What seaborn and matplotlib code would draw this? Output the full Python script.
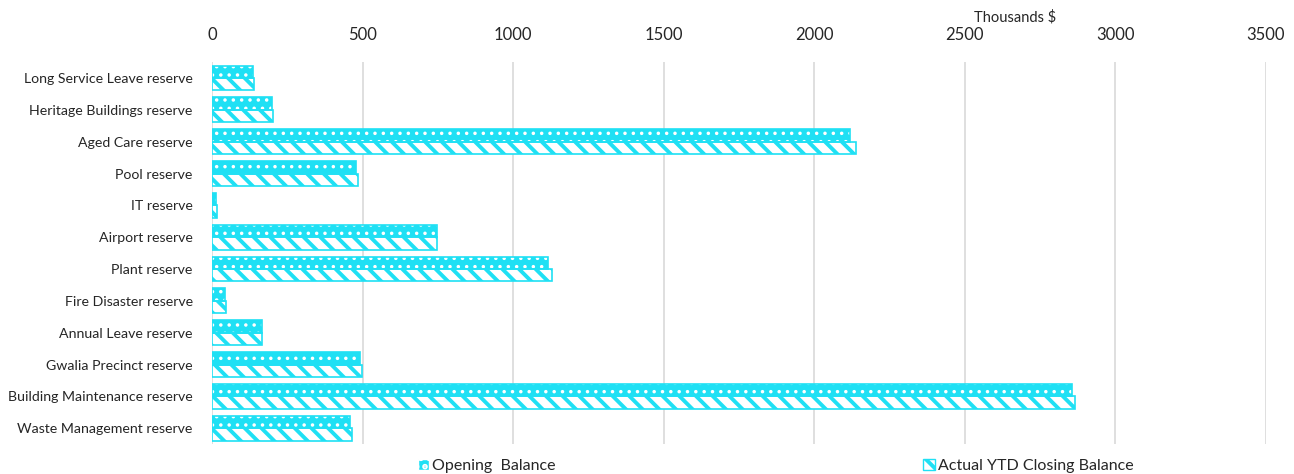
import seaborn as sns
from matplotlib import pyplot as plt
from matplotlib.patches import Rectangle, Patch
import pandas as pd

# reserves, thousands $
reserves = ["Long Service Leave reserve", "Heritage Buildings reserve", "Aged Care reserve",
            "Pool reserve", "IT reserve", "Airport reserve", "Plant reserve",
            "Fire Disaster reserve", "Annual Leave reserve", "Gwalia Precinct reserve",
            "Building Maintenance reserve", "Waste Management reserve"]
opening = [136, 200, 2120, 478, 13, 748, 1116, 43, 166, 491, 2856, 458]
closing = [140, 203, 2139, 483, 16, 748, 1129, 46, 166, 498, 2867, 465]
series = ["Opening  Balance", "Actual YTD Closing Balance"]

cyan = "#1fe0f4"

df = pd.DataFrame({
    "reserve": reserves * 2,
    "value": opening + closing,
    "series": [series[0]] * len(reserves) + [series[1]] * len(reserves),
})

sns.set_style("white")
plt.rcParams["font.family"] = ["Lato", "DejaVu Sans"]
plt.rcParams["hatch.linewidth"] = 2.8

fig = plt.figure(figsize=(12.94, 4.74), dpi=100)
ax = fig.add_axes([0.164, 0.063, 0.814, 0.806])

sns.barplot(data=df, x="value", y="reserve", hue="series", orient="h",
            palette=[cyan, cyan], width=0.78, ax=ax, legend=False, zorder=3)

n = len(reserves)
for i, p in enumerate(ax.patches[:2 * n]):
    if i < n:
        p.set_facecolor(cyan)
        p.set_edgecolor("white")
        p.set_hatch("..")
        if hasattr(p, "set_hatch_linewidth"):
            p.set_hatch_linewidth(1.3)
        p.set_linewidth(0)
    else:
        p.set_facecolor("white")
        p.set_edgecolor(cyan)
        p.set_hatch("\\\\")
        p.set_linewidth(0)
    # cyan outline on top of hatch
    ax.add_patch(Rectangle(p.get_xy(), p.get_width(), p.get_height(), fill=False,
                           edgecolor=cyan, linewidth=1.2, zorder=4))

ax.set_xlim(0, 3500)
ax.set_xticks(range(0, 3501, 500))
ax.xaxis.tick_top()
ax.xaxis.set_label_position("top")
ax.set_xlabel("Thousands $", fontsize=10.5)
ax.xaxis.set_label_coords(0.762, 1.105)
ax.set_ylabel("")
ax.tick_params(axis="x", labelsize=12, length=0, pad=14)
ax.tick_params(axis="y", labelsize=10.2, length=0, pad=14)
ax.grid(axis="x", color="#d9d9d9", linewidth=1.2, zorder=0)
ax.set_axisbelow(True)
for s in ax.spines.values():
    s.set_visible(False)

h1 = Patch(facecolor=cyan, edgecolor="white", hatch="..", label=series[0])
if hasattr(h1, "set_hatch_linewidth"):
    h1.set_hatch_linewidth(1.0)
h2 = Patch(facecolor="white", edgecolor=cyan, hatch="\\\\", label=series[1])
fig.legend(handles=[h1, h2], loc="lower left", bbox_to_anchor=(0.312, -0.028), ncol=2,
           frameon=False, fontsize=11.5, handlelength=0.7, handleheight=0.7,
           handletextpad=0.2, columnspacing=23)

fig.savefig("out.png", dpi=100)
